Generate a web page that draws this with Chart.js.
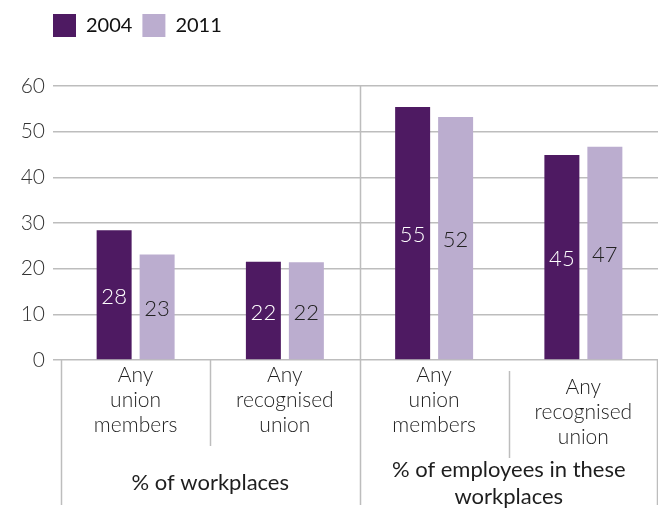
<!DOCTYPE html>
<html lang="en">
<head>
<meta charset="UTF-8">
<title>Union presence, 2004 and 2011</title>
<script src="https://cdn.jsdelivr.net/npm/chart.js"></script>
<style>
    html, body { margin: 0; padding: 0; background: #fff; }
    #wrap { width: 658px; height: 512px; }
</style>
</head>
<body>
<div id="wrap"><canvas id="chart" width="658" height="512"></canvas></div>
<script>
    // data
    const categories = [
        ['Any', 'union', 'members'],
        ['Any', 'recognised', 'union'],
        ['Any', 'union', 'members'],
        ['Any', 'recognised', 'union']
    ];
    const groups = [['% of workplaces'], ['% of employees in these', 'workplaces']];
    const groupSizes = [2, 2];
    const seriesNames = ['2004', '2011'];
    const values2004 = [28.4, 21.5, 55.4, 44.9];
    const values2011 = [23.1, 21.4, 53.2, 46.7];
    const labels2004 = ['28', '22', '55', '45'];
    const labels2011 = ['23', '22', '52', '47'];
    const yMin = 0, yMax = 60, yStep = 10;

    const FONT = 'Lato, "Open Sans", sans-serif';
    const DARK = '#4e1a62';
    const LIGHT = '#bbadcf';
    const GRID = '#bdbdbd';

    // legend: more room under it, and start it above the plot's left edge
    const legendRoom = {
        id: 'legendRoom',
        beforeInit(chart) {
            const fit = chart.legend.fit;
            chart.legend.fit = function () {
                fit.bind(chart.legend)();
                this.height += 39;
            };
        },
        afterLayout(chart) {
            chart.legend.left += 43;
        }
    };

    // numbers in the middle of each bar
    const barLabels = {
        id: 'barLabels',
        afterDatasetsDraw(chart) {
            const ctx = chart.ctx;
            const texts = [labels2004, labels2011];
            const colors = ['#ffffff', '#222222'];
            ctx.save();
            ctx.font = '300 22px ' + FONT;
            ctx.textAlign = 'center';
            ctx.textBaseline = 'middle';
            chart.data.datasets.forEach((ds, d) => {
                chart.getDatasetMeta(d).data.forEach((bar, i) => {
                    ctx.fillStyle = colors[d];
                    ctx.fillText(texts[d][i], bar.x, (bar.y + bar.base) / 2 + 2);
                });
            });
            ctx.restore();
        }
    };

    // two level category axis drawn under the plot
    const groupAxis = {
        id: 'groupAxis',
        afterDraw(chart) {
            const ctx = chart.ctx;
            const area = chart.chartArea;
            const n = categories.length;
            const w = (area.right - area.left) / n;
            const edge = i => area.left + i * w;
            const bottom = area.bottom;
            const shift = [0, 0, 0, 12];

            ctx.save();
            ctx.strokeStyle = GRID;
            ctx.lineWidth = 1.5;
            const line = (x, y1, y2) => {
                ctx.beginPath();
                ctx.moveTo(Math.round(x) + 0.5, y1);
                ctx.lineTo(Math.round(x) + 0.5, y2);
                ctx.stroke();
            };

            // group borders
            let start = 0;
            groupSizes.forEach(size => {
                const top = start === 0 ? bottom : area.top;
                line(edge(start), top, bottom + 145);
                start += size;
            });
            line(edge(n) - 1, bottom, bottom + 145);

            // borders between categories inside a group
            start = 0;
            groupSizes.forEach(size => {
                for (let k = 1; k < size; k++) {
                    const i = start + k;
                    line(edge(i), bottom + shift[i] - 1, bottom + 87 + shift[i] - 1);
                }
                start += size;
            });

            ctx.fillStyle = '#1e1e1e';
            ctx.textAlign = 'center';
            ctx.textBaseline = 'middle';
            ctx.font = '300 21px ' + FONT;
            categories.forEach((lines, i) => {
                const cx = chart.scales.x.getPixelForValue(i);
                lines.forEach((t, j) => {
                    ctx.fillText(t, cx, bottom + 15 + shift[i] + j * 25);
                });
            });

            ctx.font = '22px ' + FONT;
            start = 0;
            groups.forEach((lines, g) => {
                const cx = (edge(start) + edge(start + groupSizes[g])) / 2;
                const y0 = bottom + 123 - (lines.length - 1) * 13.5;
                lines.forEach((t, j) => ctx.fillText(t, cx, y0 + j * 27));
                start += groupSizes[g];
            });
            ctx.restore();
        }
    };

    new Chart(document.getElementById('chart'), {
        type: 'bar',
        data: {
            labels: categories.map(c => c.join(' ')),
            datasets: [
                { label: seriesNames[0], data: values2004, backgroundColor: DARK },
                { label: seriesNames[1], data: values2011, backgroundColor: LIGHT }
            ]
        },
        options: {
            responsive: false,
            animation: false,
            layout: { padding: { left: 0, right: 0, top: 4, bottom: 152 } },
            datasets: {
                bar: { categoryPercentage: 0.576, barPercentage: 0.814 }
            },
            plugins: {
                legend: {
                    position: 'top',
                    align: 'start',
                    labels: {
                        boxWidth: 23,
                        boxHeight: 23,
                        padding: 10,
                        color: '#111',
                        font: { family: FONT, size: 20 }
                    }
                },
                tooltip: { enabled: false }
            },
            scales: {
                x: { display: false },
                y: {
                    min: yMin,
                    max: yMax,
                    afterFit: s => { s.width = 61; },
                    border: { display: false },
                    grid: { color: GRID, lineWidth: 1.5, tickLength: 8 },
                    ticks: {
                        stepSize: yStep,
                        padding: 8,
                        color: '#333',
                        font: { family: FONT, size: 21, weight: 300 }
                    }
                }
            }
        },
        plugins: [legendRoom, barLabels, groupAxis]
    });
</script>
</body>
</html>
